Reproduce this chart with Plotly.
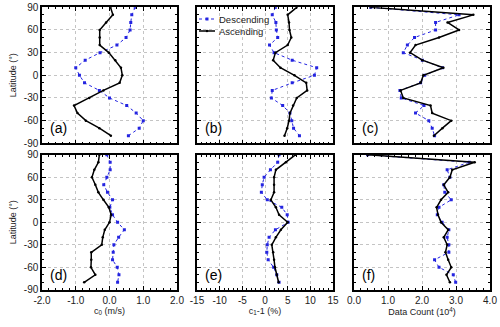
import plotly.graph_objects as go
from plotly.subplots import make_subplots

# ---------------- data ----------------
latitude = [90, 80, 70, 60, 50, 40, 30, 20, 10, 0, -10, -20, -30, -40, -50, -60, -70, -80]

a_desc = [0.76, 0.66, 0.63, 0.61, 0.49, 0.22, -0.28, -0.72, -1.0, -0.89, -0.74, -0.30, 0.0, 0.51, 0.79, 1.0, 0.88, 0.56]
a_asc = [0.03, 0.10, -0.10, -0.29, -0.29, -0.29, -0.02, 0.17, 0.34, 0.38, 0.30, -0.18, -0.60, -1.05, -0.95, -0.70, -0.30, 0.04]

b_desc = [2.3, 1.6, 2.4, 2.5, 2.8, 1.0, 2.0, 6.0, 11.4, 10.9, 6.0, 1.6, 1.4, 3.9, 5.5, 5.9, 6.3, 7.6]
b_asc = [7.0, 5.0, 5.3, 5.4, 5.8, 5.0, 2.3, 1.8, 3.4, 6.5, 9.1, 9.3, 7.0, 6.2, 5.5, 5.3, 4.9, 4.3]

c_desc = [0.49, 3.09, 2.40, 2.40, 1.78, 1.57, 1.45, 2.01, 2.60, 2.08, 1.96, 1.35, 1.39, 2.06, 1.81, 2.20, 2.30, 2.37]
c_asc = [0.49, 3.51, 2.75, 3.09, 2.50, 1.81, 1.65, 2.01, 2.63, 2.04, 1.96, 1.37, 1.45, 2.25, 2.30, 2.86, 2.60, 2.35]

d_desc = [-0.08, 0.02, 0.02, -0.08, -0.17, -0.06, 0.09, 0.01, 0.09, 0.24, 0.44, 0.27, 0.13, 0.11, 0.09, 0.23, 0.28, 0.24]
d_asc = [-0.30, -0.33, -0.45, -0.52, -0.42, -0.33, -0.18, -0.02, 0.05, 0.0, -0.14, -0.20, -0.23, -0.54, -0.54, -0.55, -0.42, -0.75]

e_desc = [3.1, 2.8, 1.2, -0.2, -0.6, -0.8, 0.5, 3.7, 4.9, 5.1, 2.3, 0.9, 0.5, 0.4, 0.7, 1.9, 2.6, 3.1]
e_asc = [6.7, 4.6, 2.4, 2.0, 2.0, 2.0, 1.3, 2.4, 3.1, 5.0, 3.5, 2.4, 1.5, 1.8, 2.0, 2.2, 2.6, 3.0]

f_desc = [0.4, 3.39, 2.74, 2.82, 2.64, 2.67, 2.86, 2.50, 2.45, 2.59, 2.79, 2.74, 2.79, 2.79, 2.37, 2.50, 2.92, 2.99]
f_asc = [0.4, 3.55, 2.89, 2.82, 2.64, 2.77, 2.56, 2.43, 2.47, 2.56, 2.77, 2.64, 2.74, 2.69, 2.77, 2.86, 2.72, 2.82]

series_names = ["Descending", "Ascending"]
panel_labels = ["(a)", "(b)", "(c)", "(d)", "(e)", "(f)"]
x_titles = ["c<sub>0</sub> (m/s)", "c<sub>1</sub>-1 (%)", "Data Count (10<sup>4</sup>)"]
lat_ticks = [90, 60, 30, 0, -30, -60, -90]
lat_ticktext = ["90", "60", "30", "0", "-30", "-60", "-90"]
c0_ticks = [-2, -1, 0, 1, 2]
c0_ticktext = ["-2.0", "-1.0", "0.0", "1.0", "2.0"]
c1_ticks = [-15, -10, -5, 0, 5, 10, 15]
c1_ticktext = ["-15", "-10", "-5", "0", "5", "10", "15"]
cnt_ticks = [0, 1, 2, 3, 4]
cnt_ticktext = ["0.0", "1.0", "2.0", "3.0", "4.0"]

# ---------------- figure ----------------
FONT = "Liberation Sans, Arial, sans-serif"
BLUE = "#2424e0"
W, H = 500, 327

fig = make_subplots(rows=2, cols=3)

panels = [
    (1, 1, a_desc, a_asc), (1, 2, b_desc, b_asc), (1, 3, c_desc, c_asc),
    (2, 1, d_desc, d_asc), (2, 2, e_desc, e_asc), (2, 3, f_desc, f_asc),
]
for i, (r, c, dv, av) in enumerate(panels):
    fig.add_trace(go.Scatter(
        x=dv, y=latitude, mode="lines+markers", name=series_names[0],
        line=dict(color=BLUE, width=1, dash="dot"),
        marker=dict(color=BLUE, size=3, symbol="square"),
        showlegend=False), row=r, col=c)
    fig.add_trace(go.Scatter(
        x=av, y=latitude, mode="lines+markers", name=series_names[1],
        line=dict(color="black", width=1.5),
        marker=dict(color="black", size=2.5, symbol="circle"),
        showlegend=False), row=r, col=c)

# domains in pixel terms
xdom = [(42, 177), (197, 333), (354, 490)]
ydom = [(7.3, 143.3), (154.8, 289.8)]

xcfg = [
    dict(range=[-2, 2], tickvals=c0_ticks, ticktext=c0_ticktext, minor_dtick=0.2),
    dict(range=[-15, 15], tickvals=c1_ticks, ticktext=c1_ticktext, minor_dtick=1),
    dict(range=[0, 4], tickvals=cnt_ticks, ticktext=cnt_ticktext, minor_dtick=0.2),
]

common = dict(
    showline=True, linecolor="black", linewidth=1.5, mirror="ticks",
    ticks="inside", ticklen=4, tickwidth=1, tickcolor="black",
    showgrid=True, gridcolor="#c4c4c4", griddash="dot", gridwidth=1,
    zeroline=False, automargin=False,
    tickfont=dict(family=FONT, size=10, color="#222222"),
)

for r in range(2):
    for c in range(3):
        idx = r * 3 + c + 1
        xname = "xaxis" if idx == 1 else f"xaxis{idx}"
        yname = "yaxis" if idx == 1 else f"yaxis{idx}"
        x0, x1 = xdom[c]
        y0, y1 = ydom[r]
        xc = xcfg[c]
        xa = dict(common)
        xa.update(domain=[x0 / W, x1 / W], range=xc["range"],
                  tickmode="array", tickvals=xc["tickvals"], ticktext=xc["ticktext"],
                  minor=dict(ticks="inside", ticklen=2, dtick=xc["minor_dtick"],
                             tick0=0, tickcolor="black", showgrid=False),
                  showticklabels=(r == 1))
        if r == 1:
            xa["title"] = dict(text=x_titles[c], standoff=0,
                               font=dict(family=FONT, size=9, color="#222222"))
        ya = dict(common)
        ya.update(domain=[1 - y1 / H, 1 - y0 / H], range=[-90, 90],
                  tickmode="array", tickvals=lat_ticks, ticktext=lat_ticktext,
                  minor=dict(ticks="inside", ticklen=2, dtick=10, tick0=0,
                             tickcolor="black", showgrid=False),
                  showticklabels=(c == 0))
        if c == 0:
            ya["title"] = dict(text="Latitude (°)", standoff=6,
                               font=dict(family=FONT, size=9, color="#222222"))
        fig.layout[xname].update(xa)
        fig.layout[yname].update(ya)
        sfx = "" if idx == 1 else str(idx)
        fig.add_annotation(
            x=0.045, y=0.11, xref=f"x{sfx} domain", yref=f"y{sfx} domain",
            text=panel_labels[idx - 1], showarrow=False, xanchor="left", yanchor="middle",
            font=dict(family=FONT, size=14, color="black"))

# legend (inside panel b, top-left)
leg_items = [
    (series_names[0], BLUE, 1, "dot", 19),
    (series_names[1], "black", 1.5, "solid", 31),
]
for name, col, lw, dash, ypx in leg_items:
    fig.add_shape(type="line", xref="paper", yref="paper",
                  x0=199 / W, x1=215 / W, y0=1 - ypx / H, y1=1 - ypx / H,
                  line=dict(color=col, width=lw, dash=dash))
    if dash == "dot":
        fig.add_shape(type="rect", xref="paper", yref="paper",
                      x0=205.5 / W, x1=208.5 / W, y0=1 - (ypx + 1.5) / H, y1=1 - (ypx - 1.5) / H,
                      line=dict(width=0), fillcolor=col)
    else:
        fig.add_shape(type="circle", xref="paper", yref="paper",
                      x0=205.8 / W, x1=208.2 / W, y0=1 - (ypx + 1.2) / H, y1=1 - (ypx - 1.2) / H,
                      line=dict(width=0), fillcolor=col)
    fig.add_annotation(x=217 / W, y=1 - ypx / H, xref="paper", yref="paper",
                       text=name, showarrow=False, xanchor="left", yanchor="middle",
                       font=dict(family=FONT, size=9.5, color="#222222"))

fig.update_layout(
    width=W, height=H,
    margin=dict(l=0, r=0, t=0, b=0),
    paper_bgcolor="white", plot_bgcolor="white",
    font=dict(family=FONT, size=10, color="#222222"),
    showlegend=False,
)

fig.write_html("out.html", config={"displayModeBar": False},
               post_script="document.body.style.margin='0';document.body.style.overflow='hidden';")
